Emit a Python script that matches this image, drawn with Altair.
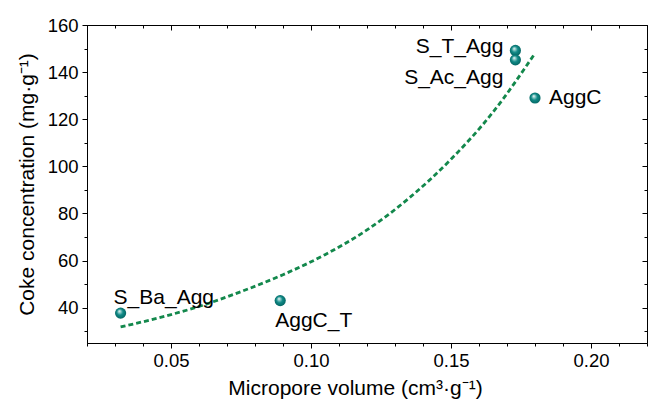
import altair as alt
import pandas as pd

# Samples: micropore volume vs coke concentration
samples = ["S_Ba_Agg", "AggC_T", "S_T_Agg", "S_Ac_Agg", "AggC"]
micropore = [0.032, 0.089, 0.173, 0.173, 0.180]
coke = [37.7, 43.0, 149.2, 145.2, 129.0]

# Fitted trend, sampled along the dashed curve
fit_x = [0.032, 0.045, 0.060, 0.075, 0.090, 0.105, 0.120, 0.135, 0.150, 0.165, 0.180]
fit_y = [31.8, 35.5, 40.5, 46.8, 54.0, 62.5, 73.0, 86.5, 103.0, 123.0, 148.0]

# Axis tick values
x_major = [0.05, 0.10, 0.15, 0.20]
x_minor = [round(0.02 + 0.01 * i, 2) for i in range(21)]
y_major = [40, 60, 80, 100, 120, 140, 160]
y_minor = list(range(30, 161, 10))

pts = pd.DataFrame({"name": samples, "vol": micropore, "coke": coke})
fit = pd.DataFrame({"vol": fit_x, "coke": fit_y})

FONT = "Liberation Sans"
xs = alt.Scale(domain=[0.02, 0.22], nice=False, zero=False)
ys = alt.Scale(domain=[25, 160], nice=False, zero=False)


def tick_axis(**kw):
    base = dict(grid=False, domain=False, labels=False, title=None,
                tickColor="black", tickWidth=1)
    base.update(kw)
    return alt.Axis(**base)


sphere = {
    "gradient": "radial",
    "x1": 0.38, "y1": 0.32, "r1": 0.0,
    "x2": 0.5, "y2": 0.5, "r2": 0.55,
    "stops": [
        {"offset": 0.0, "color": "#ffffff"},
        {"offset": 0.18, "color": "#9fd3d1"},
        {"offset": 0.5, "color": "#108a87"},
        {"offset": 1.0, "color": "#03625f"},
    ],
}

points = alt.Chart(pts).mark_point(
    filled=True, shape="circle", size=125, fill=sphere, opacity=1, strokeWidth=0
).encode(
    x=alt.X("vol:Q", scale=xs, axis=tick_axis(
        orient="bottom", values=x_major, tickSize=5, labels=True,
        domain=True, domainColor="black", format=".2f",
        labelFont=FONT, labelFontSize=18.5, labelColor="black", labelPadding=3,
        title="Micropore volume (cm³·g⁻¹)", titleFont=FONT, titleFontSize=21,
        titleFontWeight="normal", titleColor="black", titlePadding=8,
        titleX=268, titleAlign="center", titleAnchor="start")),
    y=alt.Y("coke:Q", scale=ys, axis=tick_axis(
        orient="left", values=y_major, tickSize=5, labels=True,
        domain=True, domainColor="black",
        labelFont=FONT, labelFontSize=18.5, labelColor="black", labelPadding=4,
        title="Coke concentration (mg·g⁻¹)", titleFont=FONT, titleFontSize=21,
        titleFontWeight="normal", titleColor="black", titlePadding=10)),
)

trend = alt.Chart(fit).mark_line(
    color="#13884c", strokeWidth=2.8, strokeDash=[5, 3], interpolate="monotone"
).encode(
    x=alt.X("vol:Q", scale=xs, axis=tick_axis(orient="bottom", values=x_minor, tickSize=3)),
    y=alt.Y("coke:Q", scale=ys, axis=tick_axis(orient="left", values=y_minor, tickSize=3)),
)


def label_layer(names, align, dx, dy, xax, yax):
    return alt.Chart(pts).transform_filter(
        alt.FieldOneOfPredicate(field="name", oneOf=names)
    ).mark_text(
        align=align, baseline="middle", dx=dx, dy=dy,
        font=FONT, fontSize=21, color="black"
    ).encode(
        x=alt.X("vol:Q", scale=xs, axis=xax),
        y=alt.Y("coke:Q", scale=ys, axis=yax),
        text="name:N",
    )


# Mirrored ticks on the top and right edges point into the plot
lab1 = label_layer(["S_T_Agg"], "right", -12, -3,
                   tick_axis(orient="top", values=x_major, tickSize=5, offset=-5),
                   tick_axis(orient="right", values=y_major, tickSize=5, offset=-5))
lab2 = label_layer(["S_Ac_Agg"], "right", -12, 18,
                   tick_axis(orient="top", values=x_minor, tickSize=3, offset=-3),
                   tick_axis(orient="right", values=y_minor, tickSize=3, offset=-3))
lab3 = label_layer(["AggC"], "left", 14, 0, None, None)
lab4 = label_layer(["S_Ba_Agg"], "left", -7, -15, None, None)
lab5 = label_layer(["AggC_T"], "left", -5, 20, None, None)

chart = alt.layer(points, trend, lab1, lab2, lab3, lab4, lab5).resolve_axis(
    x="independent", y="independent"
).properties(
    width=560, height=318,
    autosize=alt.AutoSizeParams(type="none"),
    padding={"left": 87, "top": 25, "right": 1, "bottom": 60},
    background="white",
).configure_view(stroke="black", strokeWidth=1)

chart.save("out.html", embed_options={"renderer": "svg", "actions": False})
